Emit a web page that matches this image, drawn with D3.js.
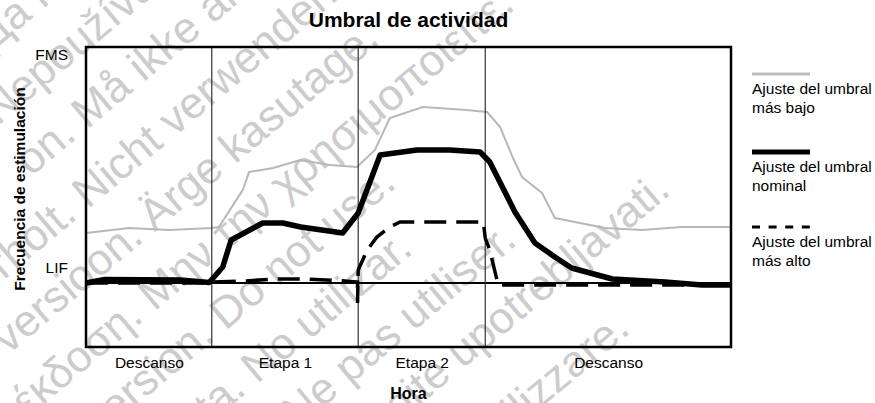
<!DOCTYPE html>
<html><head><meta charset="utf-8">
<script src="https://cdn.jsdelivr.net/npm/d3@7"></script>
<style>
html,body{margin:0;padding:0;background:#fff;}
svg{display:block;font-family:"Liberation Sans",Arial,Helvetica,sans-serif;}
</style></head><body>
<svg id="c" width="875" height="403"></svg>
<script>
// ---------- data ----------
const phases = ["Descanso", "Etapa 1", "Etapa 2", "Descanso"];
const phaseBounds = [0, 19.5, 42.2, 61.9, 100];
const yTickLabels = ["LIF", "FMS"];
const yTickValues = [7.5, 114];
const lifValue = 0;

// Ajuste del umbral más bajo (gray)
const lowT = [0, 6.7, 12.9, 19.5, 20.6, 24.3, 25.3, 29, 33.2, 37.8, 42, 44.8, 47.1, 52.2, 59, 62.2, 64.2, 66.2, 67.6, 70.7, 72.7, 80.5, 86.2, 92.4, 100];
const lowV = [25, 27.5, 26.5, 27.5, 28, 46.5, 55.5, 57.5, 61.5, 59, 58, 66.5, 82.5, 88, 86.5, 85.5, 78, 62.5, 53, 45, 32.5, 27.5, 26.5, 28, 28];

// Ajuste del umbral nominal (thick black)
const nomT = [0, 2.9, 14.6, 19.1, 21.2, 22.5, 27.4, 30.5, 33.3, 39.8, 42.2, 45.6, 51.3, 56.4, 61.1, 62.6, 66.5, 69.6, 72.7, 75.3, 81.6, 89.8, 95.5, 100];
const nomV = [0, 1.75, 1.5, 0.25, 8, 21.5, 30, 30, 28, 25, 35, 64, 66.5, 66.5, 65.5, 60.5, 35.5, 20, 13, 7.5, 2, 0.5, -1, -1];

// Ajuste del umbral más alto (dashed)
const highT = [0, 19.1, 19.5, 24.7, 29, 33.6, 40.2, 42.1, 42.1, 42.2, 43.6, 45.1, 47.1, 48.7, 61.6, 61.9, 62.6, 63.9, 100];
const highV = [0, 0, 0.5, 1, 2, 2, 1, 0.5, -10, 6.5, 16.5, 23, 28, 30.5, 30.5, 22.5, 16.5, -1, -1];

const legendLabels = [["Ajuste del umbral", "más bajo"], ["Ajuste del umbral", "nominal"], ["Ajuste del umbral", "más alto"]];

// multilingual "outdated version" watermark lines and their baseline start points
const watermarkTexts = [
  "Да не се използва.",
  "Nepoužívat.",
  "on. Må ikke anvendes.",
  "erholt. Nicht verwenden.",
  "Aegunud versioon. Ärge kasutage.",
  "Παλιά έκδοση. Μην την χρησιμοποιείτε.",
  "Outdated version. Do not use.",
  "Versión obsoleta. No utilizar.",
  "Version périmée. Ne pas utiliser.",
  "Zastarjela verzija. Nemojte upotrebljavati.",
  "Non utilizzare."
];
const watermarkX = [-8, -2, 31, -15, -136, -70, -50, -11, 35, 54, 418];
const watermarkY = [52, 126, 177, 296, 476, 500, 562, 609, 649, 712, 511];

// ---------- chart ----------
const svg = d3.select("#c");
const plot = {left: 86, top: 47, right: 731, bottom: 347};
const x = d3.scaleLinear().domain([0, 100]).range([plot.left, plot.right]);
const y = d3.scaleLinear().domain([-32, 118]).range([plot.bottom, plot.top]);

// watermark (beneath chart)
svg.append("g").attr("fill", "#cccccc").attr("font-size", 44)
  .selectAll("text").data(watermarkTexts).join("text")
  .attr("transform", (d, i) => `translate(${watermarkX[i]},${watermarkY[i]}) rotate(-40)`)
  .text(d => d);

const line = (T, V) => d3.line().x((d, i) => x(T[i])).y((d, i) => y(V[i])).curve(d3.curveLinear)(T);

// gray low threshold
svg.append("path").attr("d", line(lowT, lowV)).attr("fill", "none")
  .attr("stroke", "#b8b8b8").attr("stroke-width", 2);

// LIF baseline
svg.append("line").attr("x1", x(0)).attr("x2", x(100)).attr("y1", y(lifValue)).attr("y2", y(lifValue))
  .attr("stroke", "#000").attr("stroke-width", 2);

// phase dividers
svg.append("g").selectAll("line").data(phaseBounds.slice(1, -1)).join("line")
  .attr("x1", d => x(d)).attr("x2", d => x(d)).attr("y1", plot.top).attr("y2", plot.bottom)
  .attr("stroke", "#333").attr("stroke-width", 1.2);

// dashed high threshold
svg.append("path").attr("d", line(highT, highV)).attr("fill", "none")
  .attr("stroke", "#000").attr("stroke-width", 3.5).attr("stroke-dasharray", "22,10");

// nominal
svg.append("path").attr("d", line(nomT, nomV)).attr("fill", "none")
  .attr("stroke", "#000").attr("stroke-width", 5.5).attr("stroke-linejoin", "round");

// frame
svg.append("rect").attr("x", plot.left).attr("y", plot.top)
  .attr("width", plot.right - plot.left).attr("height", plot.bottom - plot.top)
  .attr("fill", "none").attr("stroke", "#000").attr("stroke-width", 2.5);

// y axis ticks
const yAxis = svg.append("g").attr("transform", `translate(${plot.left},0)`)
  .call(d3.axisLeft(y).tickValues(yTickValues).tickFormat((d, i) => yTickLabels[i]).tickSize(0).tickPadding(18));
yAxis.select(".domain").remove();
yAxis.selectAll("text").attr("font-size", 15.5).attr("fill", "#000").attr("font-family", "Liberation Sans, Arial, sans-serif");

// x axis phase labels
const mids = phases.map((p, i) => (phaseBounds[i] + phaseBounds[i + 1]) / 2);
const xAxis = svg.append("g").attr("transform", `translate(0,${plot.bottom})`)
  .call(d3.axisBottom(x).tickValues(mids).tickFormat((d, i) => phases[i]).tickSize(0).tickPadding(10));
xAxis.select(".domain").remove();
xAxis.selectAll("text").attr("font-size", 15.5).attr("fill", "#000").attr("font-family", "Liberation Sans, Arial, sans-serif");

// titles
svg.append("text").attr("x", (plot.left + plot.right) / 2).attr("y", 27).attr("text-anchor", "middle")
  .attr("font-size", 21).attr("font-weight", "bold").text("Umbral de actividad");
svg.append("text").attr("x", (plot.left + plot.right) / 2).attr("y", 399).attr("text-anchor", "middle")
  .attr("font-size", 16).attr("font-weight", "bold").text("Hora");
svg.append("text").attr("transform", "translate(25,189) rotate(-90)").attr("text-anchor", "middle")
  .attr("font-size", 15.5).attr("font-weight", "bold").text("Frecuencia de estimulación");

// legend
const lg = svg.append("g").attr("transform", "translate(752,74)");
const styles = [
  {stroke: "#bdbdbd", w: 3, dash: null},
  {stroke: "#000", w: 5, dash: null},
  {stroke: "#000", w: 3, dash: "8,8.6"}
];
const offs = [0, 78, 153];
legendLabels.forEach((lab, i) => {
  const g = lg.append("g").attr("transform", `translate(0,${offs[i]})`);
  g.append("line").attr("x1", 0).attr("x2", 58).attr("y1", 0).attr("y2", 0)
    .attr("stroke", styles[i].stroke).attr("stroke-width", styles[i].w)
    .attr("stroke-dasharray", styles[i].dash);
  g.append("text").attr("x", 0).attr("y", 20).attr("font-size", 15.5).text(lab[0]);
  g.append("text").attr("x", 0).attr("y", 39).attr("font-size", 15.5).text(lab[1]);
});
</script>
</body></html>
